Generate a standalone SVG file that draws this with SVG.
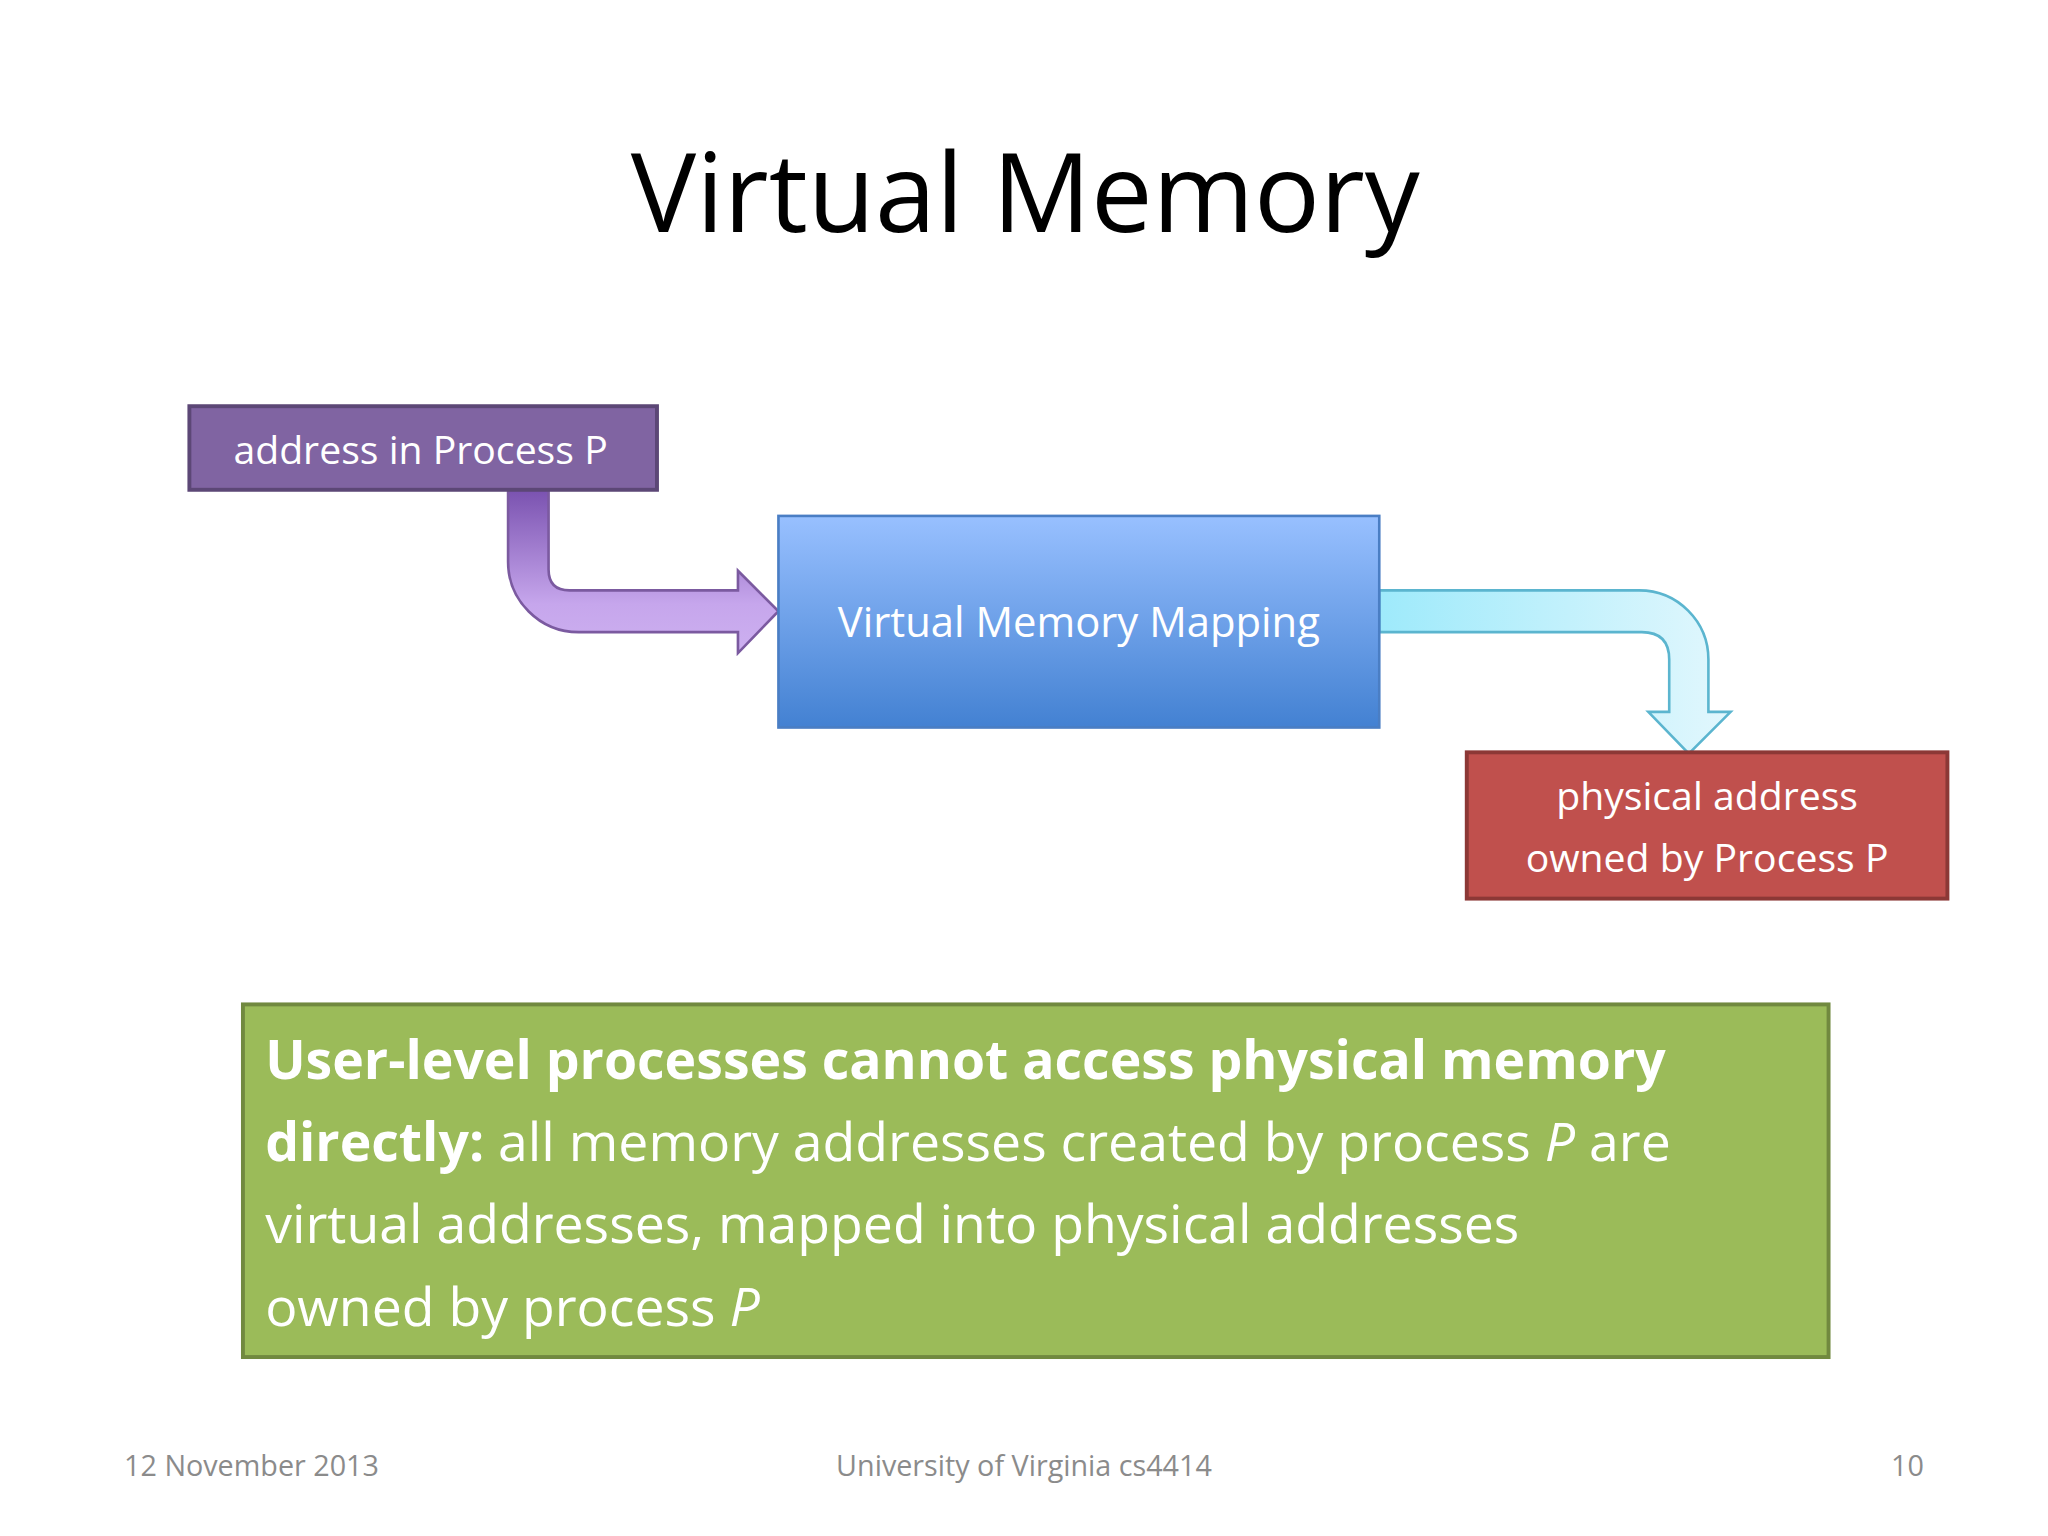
<svg xmlns="http://www.w3.org/2000/svg" width="2048" height="1536" viewBox="0 0 2048 1536">
<style>
text{font-family:"Open Sans","Noto Sans",sans-serif}
.w{fill:#fff}
.f{fill:#8b8b8b;font-size:22px}
</style>
<defs>
<linearGradient id="gb" x1="0" y1="0" x2="0" y2="1"><stop offset="0" stop-color="#98c0ff"/><stop offset="1" stop-color="#4381d2"/></linearGradient>
<linearGradient id="gp" x1="0" y1="0" x2="0" y2="1"><stop offset="0" stop-color="#7a52b0"/><stop offset="0.7" stop-color="#c6a6ec"/><stop offset="1" stop-color="#cdb0f0"/></linearGradient>
<linearGradient id="gc" x1="0" y1="0" x2="1" y2="0"><stop offset="0" stop-color="#9eeafb"/><stop offset="1" stop-color="#e2f7fd"/></linearGradient>
</defs>
<rect width="2048" height="1536" fill="#fff"/>
<g transform="scale(1.30612)">
<text x="785" y="178" text-anchor="middle" font-size="84" fill="#000">Virtual Memory</text>
<g id="connectors">
<path d="M389,375 L389,430 A54,54 0 0 0 443,484 L565,484 L565,500 L596,468 L565,437 L565,452 L436,452 Q420,452 420,436 L420,375 Z" fill="url(#gp)" stroke="#7b5aa0" stroke-width="2"/>
<path d="M1056,452 L1255,452 A53,53 0 0 1 1308,505 L1308,545 L1325,545 L1293,577 L1262,545 L1278,545 L1278,505 Q1278,484 1257,484 L1056,484 Z" fill="url(#gc)" stroke="#5bb5cf" stroke-width="2"/>
</g>
<g id="process">
<rect x="145" y="311" width="358" height="64" fill="#8064a2" stroke="#5c4776" stroke-width="3"/>
<text x="322" y="355" text-anchor="middle" font-size="30" class="w">address in Process P</text>
</g>
<g id="mapping">
<rect x="596" y="395" width="460" height="162" fill="url(#gb)" stroke="#4a7ec4" stroke-width="2"/>
<text x="826" y="488" text-anchor="middle" font-size="32" class="w">Virtual Memory Mapping</text>
</g>
<g id="physical">
<rect x="1123" y="576" width="368" height="112" fill="#c0504d" stroke="#8c3836" stroke-width="3"/>
<text x="1307" y="620" text-anchor="middle" font-size="30" class="w">physical address</text>
<text x="1307" y="668" text-anchor="middle" font-size="30" class="w">owned by Process P</text>
</g>
<g id="note">
<rect x="186" y="769" width="1214" height="270" fill="#9bbb59" stroke="#71893f" stroke-width="3"/>
<g font-size="41" class="w">
<text x="203" y="826" font-weight="bold">User-level processes cannot access physical memory</text>
<text x="203" y="889"><tspan font-weight="bold">directly:</tspan> all memory addresses created by process <tspan font-style="italic">P</tspan> are</text>
<text x="203" y="952">virtual addresses, mapped into physical addresses</text>
<text x="203" y="1015">owned by process <tspan font-style="italic">P</tspan></text>
</g>
</g>
<text x="95" y="1130" class="f">12 November 2013</text>
<text x="784" y="1130" class="f" text-anchor="middle">University of Virginia cs4414</text>
<text x="1473" y="1130" class="f" text-anchor="end">10</text>
</g>
</svg>
